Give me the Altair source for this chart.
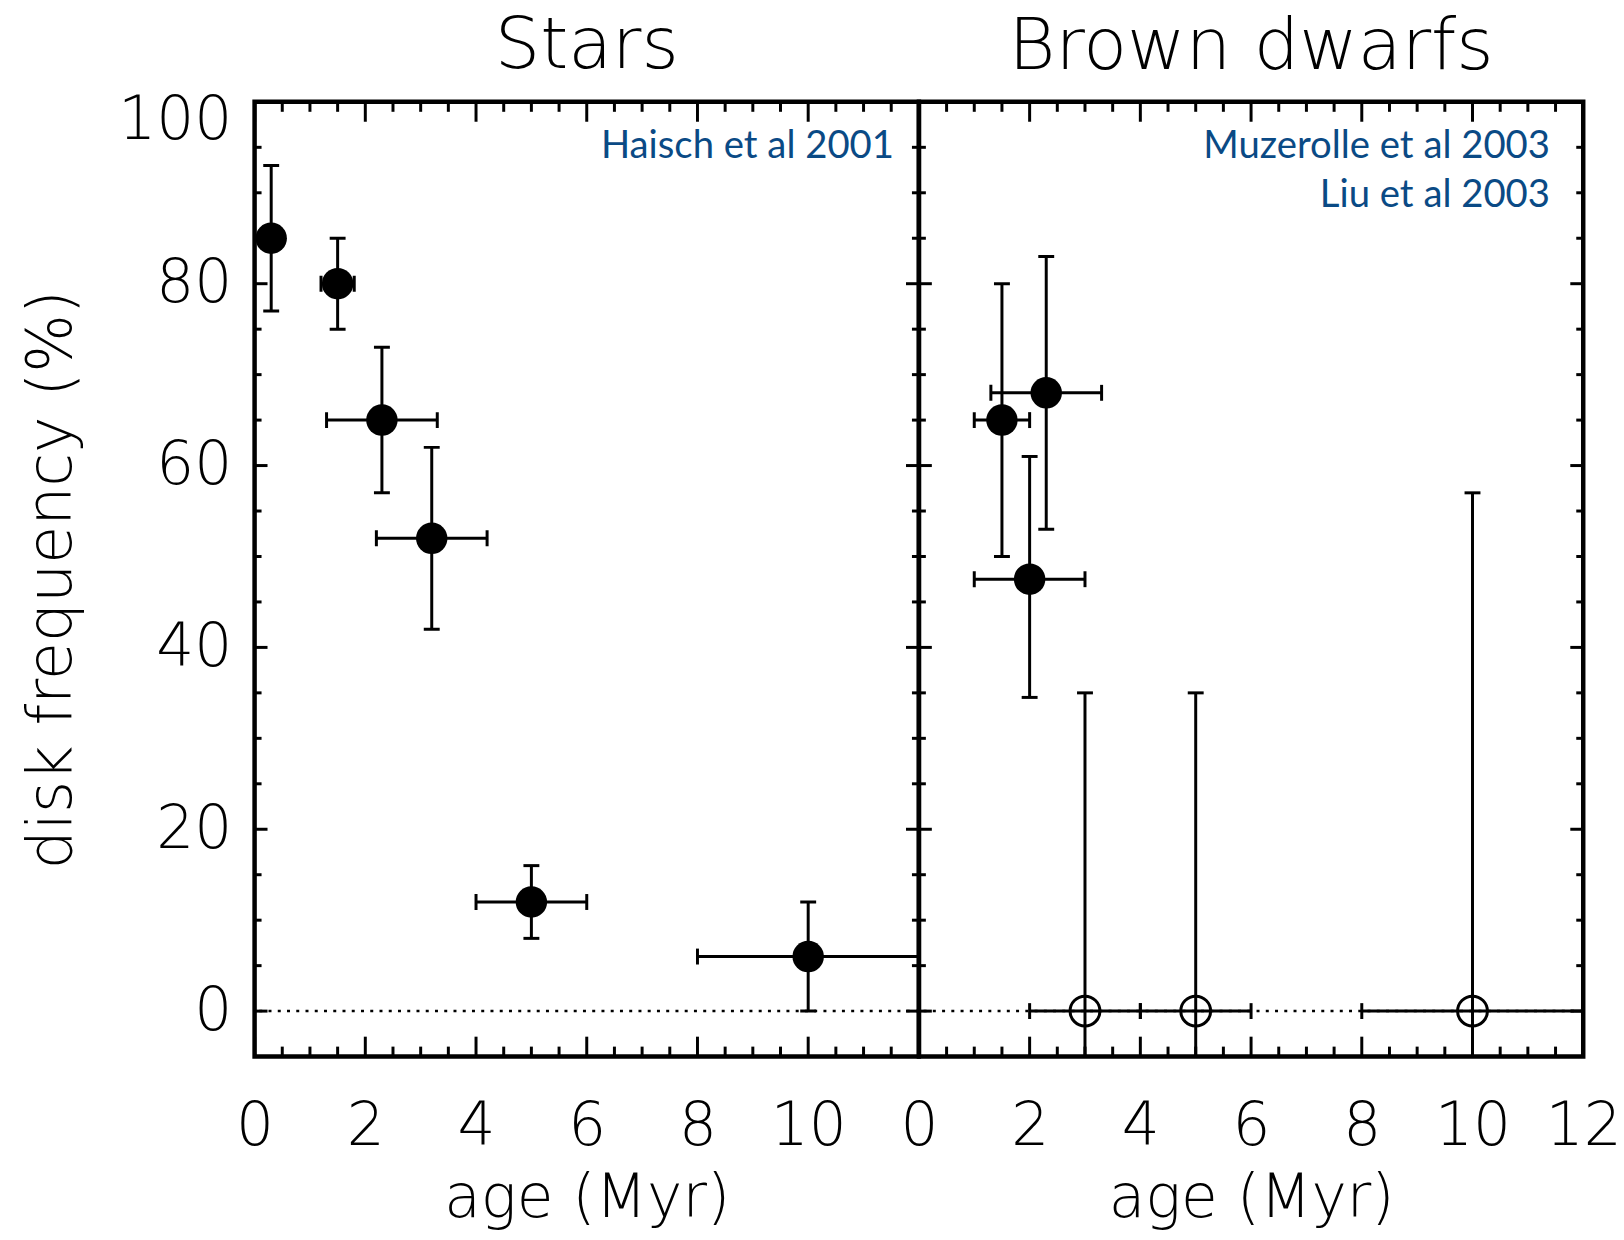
import altair as alt
import pandas as pd

# ---------------- data ----------------
stars_age = [0.3, 1.5, 2.3, 3.2, 5.0, 10.0]
stars_freq = [85, 80, 65, 52, 12, 6]
stars_age_lo = [0.3, 1.2, 1.3, 2.2, 4.0, 8.0]
stars_age_hi = [0.3, 1.8, 3.3, 4.2, 6.0, 12.0]
stars_freq_lo = [77, 75, 57, 42, 8, 0]
stars_freq_hi = [93, 85, 73, 62, 16, 12]
stars_filled = [True, True, True, True, True, True]

bd_age = [1.5, 2.3, 2.0, 3.0, 5.0, 10.0]
bd_freq = [65, 68, 47.5, 0, 0, 0]
bd_age_lo = [1.0, 1.3, 1.0, 2.0, 4.0, 8.0]
bd_age_hi = [2.0, 3.3, 3.0, 4.0, 6.0, 12.0]
bd_freq_lo = [50, 53, 34.5, -5, -5, -5]
bd_freq_hi = [80, 83, 61, 35, 35, 57]
bd_filled = [True, True, True, False, False, False]

stars_notes = ["Haisch et al 2001"]
stars_notes_age = [11.55]
stars_notes_freq = [95.1]
bd_notes = ["Muzerolle et al 2003", "Liu et al 2003"]
bd_notes_age = [11.4, 11.4]
bd_notes_freq = [95.1, 89.7]

x_major = [0, 2, 4, 6, 8, 10, 12]
x_minor = [0.5, 1, 1.5, 2.5, 3, 3.5, 4.5, 5, 5.5, 6.5, 7, 7.5, 8.5, 9, 9.5, 10.5, 11, 11.5]
y_major = [0, 20, 40, 60, 80]
y_minor = [5, 10, 15, 25, 30, 35, 45, 50, 55, 65, 70, 75, 85, 90, 95]
stars_x_labels = [0, 2, 4, 6, 8, 10]
bd_x_labels = [0, 2, 4, 6, 8, 10, 12]
y_labels = [0, 20, 40, 60, 80, 100]

# ---------------- styling ----------------
W, H = 668, 960
FONT = "DejaVu Sans"
FW = 300
NOTE_FONT = "Lato"
NOTE_COLOR = "#0a4a85"
XS = alt.Scale(domain=[0, 12], nice=False, zero=False)
YS = alt.Scale(domain=[-5, 100], nice=False, zero=False)


def make_panel(age, freq, alo, ahi, flo, fhi, filled, notes, n_age, n_freq,
               title, xlabels, show_y, title_offset):
    xaxis = alt.Axis(values=xlabels, title="age (Myr)", grid=False, domain=False,
                     ticks=False, tickSize=0, labelFontSize=60, labelFont=FONT,
                     labelFontWeight=FW, labelColor="black", labelPadding=41,
                     labelOverlap=False, labelFlush=False,
                     titleFont=FONT, titleFontSize=60, titleFontWeight=FW,
                     titleColor="black", titlePadding=14)
    if show_y:
        yaxis = alt.Axis(values=y_labels, title="disk frequency (%)", grid=False,
                         domain=False, ticks=False, tickSize=0, labelFontSize=60,
                         labelFont=FONT, labelFontWeight=FW, labelColor="black",
                         labelPadding=23, labelFlush=True, labelFlushOffset=10,
                         labelOverlap=False,
                         titleFont=FONT, titleFontSize=62, titleFontWeight=FW,
                         titleColor="black", titlePadding=35)
    else:
        yaxis = None

    def X(f):
        return alt.X(f"{f}:Q", scale=XS, axis=xaxis, title="age (Myr)")

    def Y(f):
        if yaxis is None:
            return alt.Y(f"{f}:Q", scale=YS, axis=None)
        return alt.Y(f"{f}:Q", scale=YS, axis=yaxis, title="disk frequency (%)")

    df = pd.DataFrame({"age": age, "freq": freq, "age_lo": alo, "age_hi": ahi,
                       "freq_lo": flo, "freq_hi": fhi, "filled": filled})
    base = alt.Chart(df)
    lw = 3
    layers = []

    # zero line (dotted)
    zero = alt.Chart(pd.DataFrame({"freq": [0]})).mark_rule(
        color="black", strokeWidth=2.5, strokeDash=[3, 6.3]).encode(y=Y("freq"))
    layers.append(zero)

    # frame ticks (pointing inward)
    xmaj = alt.Chart(pd.DataFrame({"age": x_major}))
    xmin = alt.Chart(pd.DataFrame({"age": x_minor}))
    ymaj = alt.Chart(pd.DataFrame({"freq": y_major}))
    ymin = alt.Chart(pd.DataFrame({"freq": y_minor}))
    for src, ln in ((xmaj, 20), (xmin, 10)):
        layers.append(src.mark_rule(color="black", strokeWidth=lw).encode(
            x=X("age"), y=alt.value(H), y2=alt.value(H - ln)))
        layers.append(src.mark_rule(color="black", strokeWidth=lw).encode(
            x=X("age"), y=alt.value(0), y2=alt.value(ln)))
    for src, ln in ((ymaj, 13), (ymin, 7)):
        layers.append(src.mark_rule(color="black", strokeWidth=lw).encode(
            y=Y("freq"), x=alt.value(0), x2=alt.value(ln)))
        layers.append(src.mark_rule(color="black", strokeWidth=lw).encode(
            y=Y("freq"), x=alt.value(W), x2=alt.value(W - ln)))

    # error bars
    layers.append(base.mark_rule(color="black", strokeWidth=lw, clip=True).encode(
        x=X("age"), y=Y("freq_lo"), y2="freq_hi"))
    layers.append(base.mark_rule(color="black", strokeWidth=lw, clip=True).encode(
        x=X("age_lo"), x2="age_hi", y=Y("freq")))
    for f in ("freq_lo", "freq_hi"):
        layers.append(base.mark_tick(orient="horizontal", size=16, thickness=lw,
                                     color="black", opacity=1, clip=True).encode(
            x=X("age"), y=Y(f)))
    for f in ("age_lo", "age_hi"):
        layers.append(base.mark_tick(orient="vertical", size=16, thickness=lw,
                                     color="black", opacity=1, clip=True).encode(
            x=X(f), y=Y("freq")))

    # points
    layers.append(base.transform_filter("datum.filled").mark_point(
        filled=True, size=1000, color="black", opacity=1).encode(
        x=X("age"), y=Y("freq")))
    layers.append(base.transform_filter("!datum.filled").mark_point(
        filled=False, size=900, color="black", strokeWidth=3, opacity=1).encode(
        x=X("age"), y=Y("freq")))

    # notes
    ndf = pd.DataFrame({"age": n_age, "freq": n_freq, "label": notes})
    layers.append(alt.Chart(ndf).mark_text(
        align="right", baseline="middle", font=NOTE_FONT, fontSize=38.5,
        color=NOTE_COLOR).encode(x=X("age"), y=Y("freq"), text="label:N"))

    return alt.layer(*layers).properties(
        width=W, height=H,
        title=alt.TitleParams(title, font=FONT, fontSize=72, fontWeight=FW,
                              color="black", anchor="middle",
                              offset=title_offset, frame="group"))


left = make_panel(stars_age, stars_freq, stars_age_lo, stars_age_hi, stars_freq_lo,
                  stars_freq_hi, stars_filled, stars_notes, stars_notes_age,
                  stars_notes_freq, "Stars", stars_x_labels, True, 8)
right = make_panel(bd_age, bd_freq, bd_age_lo, bd_age_hi, bd_freq_lo, bd_freq_hi,
                   bd_filled, bd_notes, bd_notes_age, bd_notes_freq,
                   "Brown dwarfs", bd_x_labels, False, 16.5)

chart = alt.hconcat(left, right, spacing=0, bounds="flush").resolve_axis(
    y="independent").properties(
    padding={"left": 18, "top": 4, "right": 0, "bottom": 0},
    background="white",
).configure_view(stroke="black", strokeWidth=4.5)

chart.save("out.html", embed_options={"renderer": "svg", "actions": False})
